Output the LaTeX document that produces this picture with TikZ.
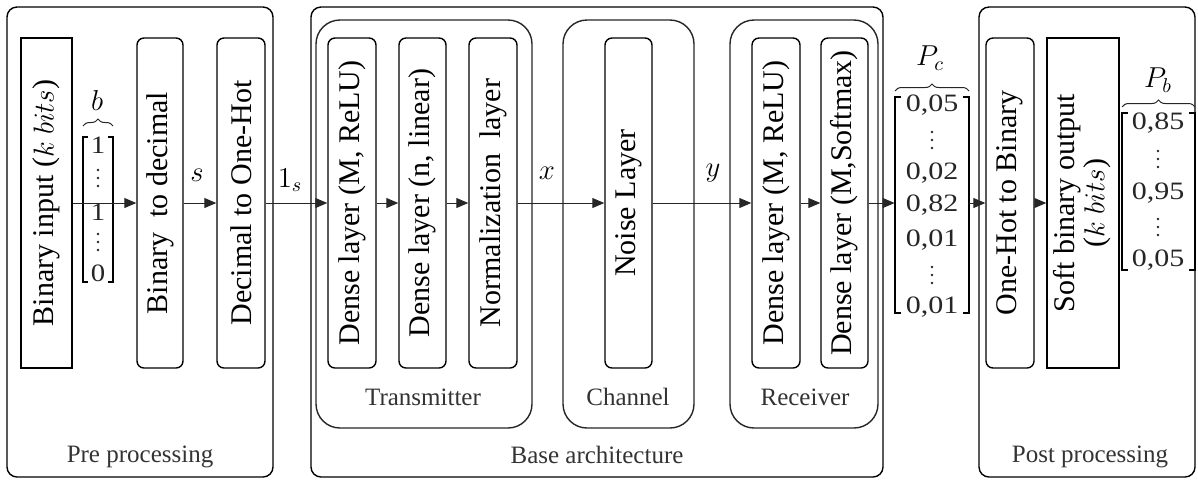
\documentclass[tikz,border=0pt]{standalone}
\usepackage{fontspec}
\setmainfont{Liberation Serif}
\usetikzlibrary{arrows.meta,fit,decorations.pathreplacing}
\tikzset{
  stagebox/.style={draw=black, line width=0.7pt, rounded corners=3.5pt, inner sep=0pt, minimum height=165pt, font=\fontsize{15}{16}\selectfont},
  sharpbox/.style={stagebox, rounded corners=0pt},
  grp/.style={draw=black, line width=0.7pt, rounded corners=5pt, inner sep=0pt},
  subgrp/.style={draw=black!85, line width=0.7pt, rounded corners=12pt, inner sep=0pt},
  grplabel/.style={text=black!80, font=\fontsize{12.5}{14}\selectfont, inner sep=0pt},
  arr/.style={draw=black!85, line width=0.45pt, -{Triangle[length=6pt,width=5pt]}},
  vec/.style={inner sep=0pt},
  entry/.style={inner sep=0pt, font=\fontsize{12.5}{13}\selectfont, text=black!85},
  dotfill/.style={fill=black!85},
  brk/.style={draw=black, line width=0.75pt},
  brc/.style={draw=black!85, line width=0.5pt, decorate, decoration={brace, amplitude=3.5pt}},
  sym/.style={inner sep=0pt, font=\fontsize{14}{15}\selectfont},
}
\newcommand\vdotsat[2]{\fill[dotfill] (#1,#2-8) circle (0.7pt) (#1,#2) circle (0.7pt) (#1,#2+8) circle (0.7pt);}
\begin{document}
\begin{tikzpicture}[x=0.5pt, y=-0.5pt]
\useasboundingbox (0,0) rectangle (1198,479);
% group containers
\node[grp, fit={(7,7) (273,477)}] (pre) {};
\node[grp, fit={(311,7) (883,477)}] (base) {};
\node[grp, fit={(979,7) (1195,477)}] (post) {};
\node[subgrp, fit={(316,20) (532,428)}] (tx) {};
\node[subgrp, fit={(563,20) (694,428)}] (ch) {};
\node[subgrp, fit={(730,20) (878,428)}] (rx) {};
\node[grplabel] (prel) at (140,457) {Pre processing};
\node[grplabel] (basel) at (597,455) {Base architecture};
\node[grplabel] (postl) at (1090,457) {Post processing};
\node[grplabel] (txl) at (423,397) {Transmitter};
\node[grplabel] (chl) at (628,397) {Channel};
\node[grplabel] (rxl) at (805,397) {Receiver};
% stage boxes
\node[sharpbox, minimum width=25.5pt] (bin) at (46.5,203) {\rotatebox{90}{Binary input (\(k\ bits\))}};
\node[stagebox, minimum width=23pt] (b2d) at (160,203) {\rotatebox{90}{Binary\ \ to decimal}};
\node[stagebox, minimum width=24pt] (d2oh) at (241,203) {\rotatebox{90}{Decimal to One-Hot}};
\node[stagebox, minimum width=24pt] (tx1) at (352,203) {\rotatebox{90}{Dense layer (M, ReLU)}};
\node[stagebox, minimum width=23.5pt] (tx2) at (422.5,203) {\rotatebox{90}{Dense layer (n, linear)}};
\node[stagebox, minimum width=24pt] (norm) at (493,203) {\rotatebox{90}{Normalization\ \ layer}};
\node[stagebox, minimum width=23.5pt] (noise) at (628.5,203) {\rotatebox{90}{Noise Layer}};
\node[stagebox, minimum width=24pt] (rx1) at (776,203) {\rotatebox{90}{Dense layer (M, ReLU)}};
\node[stagebox, minimum width=23.5pt] (rx2) at (844.5,203) {\rotatebox{90}{Dense layer (M,Softmax)}};
\node[stagebox, minimum width=24pt] (oh2b) at (1010,203) {\rotatebox{90}{One-Hot to Binary}};
\node[sharpbox, minimum width=36pt] (soft) at (1083,203) {\rotatebox{90}{\begin{tabular}{@{}c@{}}Soft binary output\\[-1pt](\(k\ bits\))\end{tabular}}};
% vectors
\node[vec, fit={(83,137) (113,269)}] (bv) {};
\node[vec, fit={(895,97) (969,309)}] (pcv) {};
\node[vec, fit={(1122,113) (1195,293)}] (pbv) {};
\draw[brk] (88,137) -- (83,137) -- (83,282) -- (88,282);
\draw[brk] (108,137) -- (113,137) -- (113,282) -- (108,282);
\draw[brk] (901,97) -- (895,97) -- (895,313) -- (901,313);
\draw[brk] (963,97) -- (969,97) -- (969,313) -- (963,313);
\draw[brk] (1128,113) -- (1122,113) -- (1122,270) -- (1128,270);
\draw[brk] (1189,113) -- (1195,113) -- (1195,270) -- (1189,270);
\draw[brc] (83,126) -- (113,126);
\draw[brc] (895,91) -- (969,91);
\draw[brc] (1122,107) -- (1195,107);
\node[sym] (blab) at (97,100) {\(b\)};
\node[sym] (pclab) at (930,58) {\(P_c\)};
\node[sym] (pblab) at (1158,80) {\(P_b\)};
% vector entries
\node[entry] (b1) at (98,145) {\scalebox{1.15}[1]{1}};
\vdotsat{98}{178}
\node[entry] (b3) at (98,212) {\scalebox{1.15}[1]{1}};
\vdotsat{98}{242}
\node[entry] (b5) at (98,273) {\scalebox{1.15}[1]{0}};
\node[entry] (pc1) at (932,105) {\scalebox{1.2}[1]{0,05}};
\vdotsat{932}{140}
\node[entry] (pc3) at (932,173) {\scalebox{1.2}[1]{0,02}};
\node[entry] (pc4) at (932,205) {\scalebox{1.2}[1]{0,82}};
\node[entry] (pc5) at (932,240) {\scalebox{1.2}[1]{0,01}};
\vdotsat{932}{275}
\node[entry] (pc7) at (932,307) {\scalebox{1.2}[1]{0,01}};
\node[entry] (pb1) at (1158,123) {\scalebox{1.2}[1]{0,85}};
\vdotsat{1158}{159}
\node[entry] (pb3) at (1158,193) {\scalebox{1.2}[1]{0,95}};
\vdotsat{1158}{227}
\node[entry] (pb5) at (1158,260) {\scalebox{1.2}[1]{0,05}};
% connectors
\draw[arr] (bin) -- (b2d);
\draw[arr] (b2d) -- (d2oh);
\draw[arr] (d2oh) -- (tx1);
\draw[arr] (tx1) -- (tx2);
\draw[arr] (tx2) -- (norm);
\draw[arr] (norm) -- (noise);
\draw[arr] (noise) -- (rx1);
\draw[arr] (rx1) -- (rx2);
\draw[arr] (rx2.east) -- (rx2.east -| pcv.west);
\draw[arr] (pcv.east |- oh2b.west) -- (oh2b.west);
\draw[arr] (oh2b) -- (soft);
% signal labels
\node[sym] (slab) at (197,175) {\(s\)};
\node[sym] (onelab) at (290,180) {\(1_s\)};
\node[sym] (xlab) at (547,173) {\(x\)};
\node[sym] (ylab) at (713,173) {\(y\)};
\end{tikzpicture}
\end{document}
